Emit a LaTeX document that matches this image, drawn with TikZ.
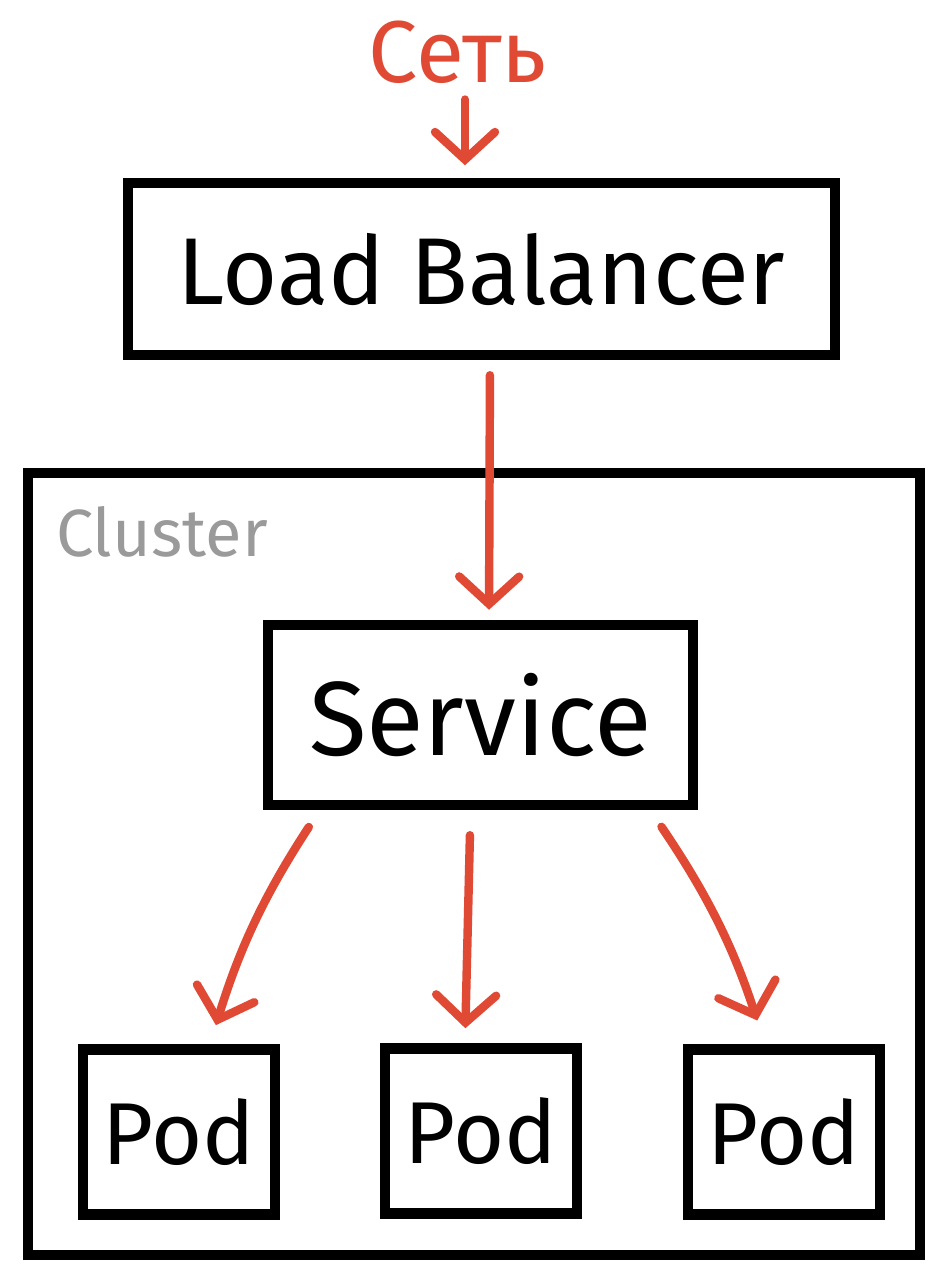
\documentclass[tikz,border=0pt]{standalone}
\usepackage{fontspec}
\setmainfont{Fira Sans}
\usetikzlibrary{arrows.meta}
\definecolor{netred}{HTML}{E04A35}
\definecolor{labelgray}{HTML}{9A9A9A}
\begin{document}
\begin{tikzpicture}[x=0.02cm, y=-0.02cm,
  box/.style={draw, line width=6pt, inner sep=0pt},
  flow/.style={draw=netred, line width=4.8pt, line cap=round,
    -{Straight Barb[length=0.55cm, width=1.2cm, line width=4.8pt, line cap=round]}}]
\useasboundingbox (0,0) rectangle (950,1280);
\node[text=netred, font=\fontsize{50}{54}\selectfont] (net) at (458,52){Сеть};
\node[box, minimum width=14.14cm, minimum height=3.44cm, font=\fontsize{54}{58}\selectfont] (lb) at (481.5,269){Load Balancer};
\node[box, minimum width=17.84cm, minimum height=15.64cm] (cluster) at (474,864){};
\node[text=labelgray, font=\fontsize{38}{42}\selectfont, anchor=west] (clusterlbl) at (50,532){Cluster};
\node[box, minimum width=8.5cm, minimum height=3.6cm, font=\fontsize{60}{64}\selectfont] (svc) at (480.5,715){Service};
\node[box, minimum width=3.84cm, minimum height=3.3cm, font=\fontsize{50}{54}\selectfont] (pod1) at (179,1132){Pod};
\node[box, minimum width=3.84cm, minimum height=3.3cm, font=\fontsize{50}{54}\selectfont] (pod2) at (481,1131){Pod};
\node[box, minimum width=3.84cm, minimum height=3.3cm, font=\fontsize{50}{54}\selectfont] (pod3) at (784,1132){Pod};
% traffic
\draw[flow] ([xshift=0.14cm, yshift=-0.2cm]net.south) -- ([xshift=0.14cm, yshift=0.25cm]lb.north -| net.south);
\draw[flow, shorten <=0.3cm, shorten >=0.2cm] ([xshift=0.17cm]lb.south) -- ([xshift=0.17cm]svc.north);
\draw[flow, shorten <=0.4cm, shorten >=0.4cm] ([xshift=1.14cm]svc.south west) to[bend right=8] ([xshift=0.62cm]pod1.north);
\draw[flow, shorten <=0.5cm, shorten >=0.3cm] ([xshift=-0.2cm]svc.south) -- ([xshift=-0.32cm]pod2.north);
\draw[flow, shorten <=0.4cm, shorten >=0.5cm] ([xshift=-0.96cm]svc.south east) to[bend left=8] ([xshift=-0.38cm]pod3.north);
\end{tikzpicture}
\end{document}
